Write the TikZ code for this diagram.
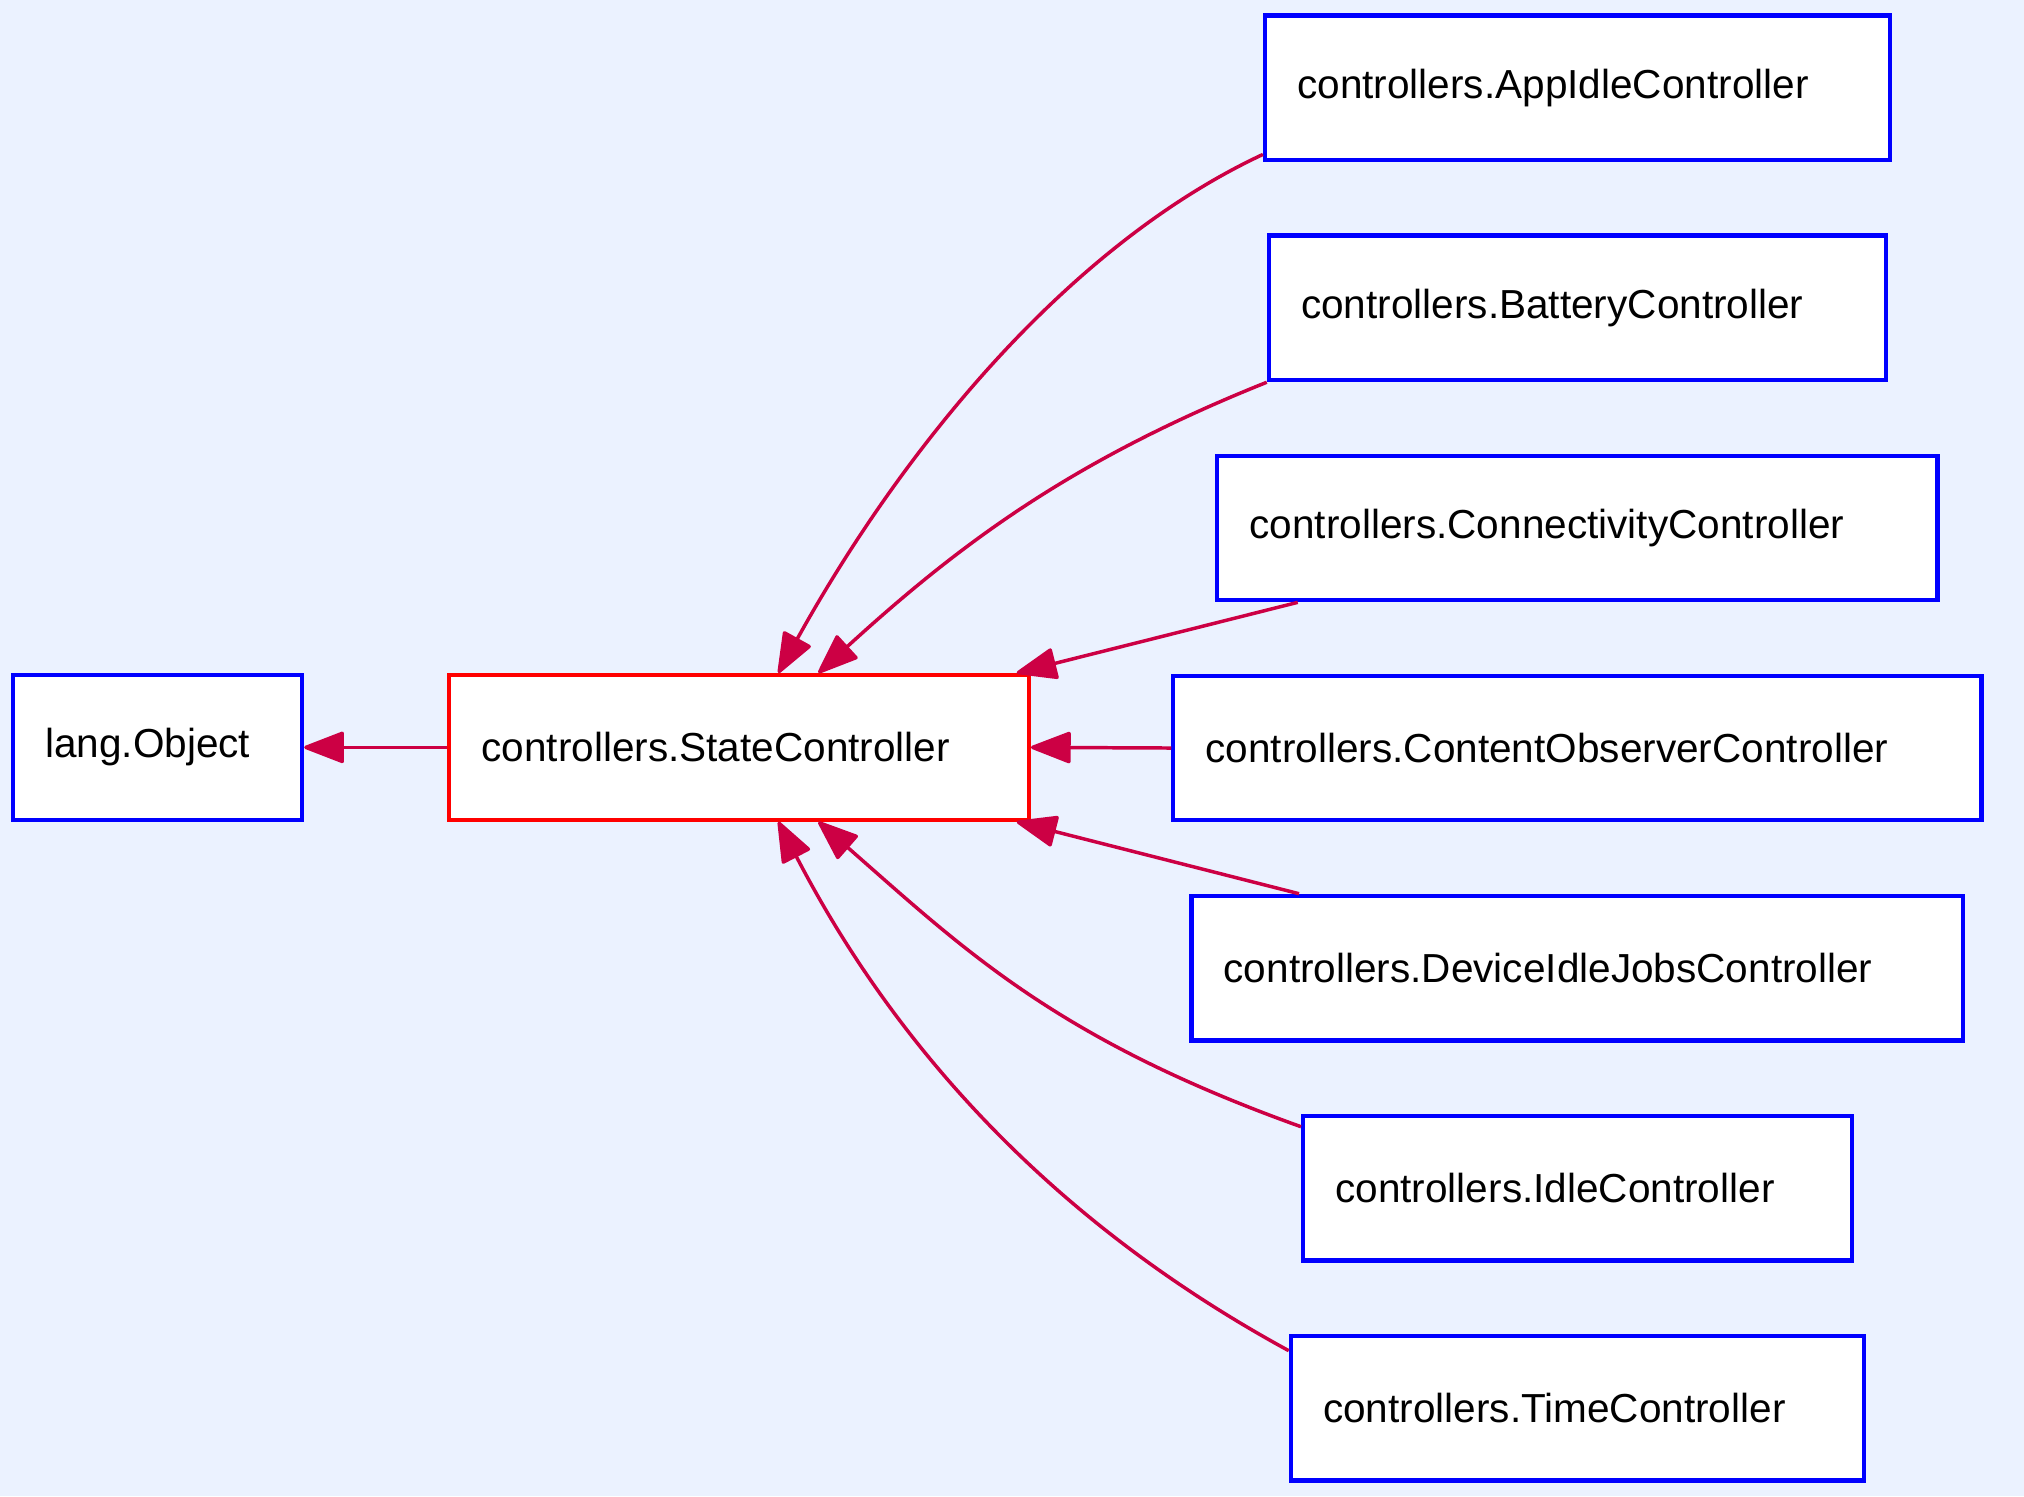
\documentclass[tikz,border=0pt]{standalone}
\usepackage{fontspec}
\setmainfont{Liberation Sans}
\usepackage{tikz}
\usetikzlibrary{
	arrows.meta
}
\definecolor{bgblue}{RGB}{235,242,255}
\definecolor{classblue}{RGB}{0,0,255}
\definecolor{basered}{RGB}{255,0,0}
\definecolor{edgered}{RGB}{204,0,68}
\tikzset{
	class/.style={
		draw=classblue,
		fill=white,
		line width=2.8pt,
		minimum height=3.36cm,
		inner xsep=0.75cm,
		inner ysep=0pt,
		align=left,
		font=\fontsize{26.8pt}{32pt}\selectfont
	},
	base class/.style={
		class,
		draw=basered
	},
	inherit/.style={
		draw=edgered,
		line width=2.3pt,
		-{Triangle[length=1cm,width=0.75cm,round]}
	}
}

\begin{document}
\begin{tikzpicture}[x=0.03cm,y=-0.03cm]
		\fill[bgblue] (0,0) rectangle (1568,1159);
		\useasboundingbox (0,0) rectangle (1568,1159);

		\draw
			node [class,text width=5.22cm]       (obj)   at (122,579)   {lang.Object}
			node [base class,text width=11.97cm] (state) at (572.5,579) {controllers.StateController}
		;

		\foreach \n/\w/\t [count=\k from 0] in {
			app/434/AppIdleController,
			bat/428/BatteryController,
			conn/508/ConnectivityController,
			cont/576/ContentObserverController,
			dev/548/DeviceIdleJobsController,
			idle/375/IdleController,
			time/394/TimeController
		} {
			\pgfmathsetmacro\tw{\w*0.03}
			\node [class,text width=\tw cm] (\n) at (1222,68+170.5*\k) {controllers.\t};
		}

		\draw[inherit] (state.west) -- (obj.east);
		\draw[inherit] ([yshift=0.18cm]app.south west)
			.. controls +(-150,70) and +(97,-175) .. ([xshift=0.915cm]state.north);
		\draw[inherit] (bat.south west)
			.. controls +(-150,60) and +(110.7,-101.1) .. ([xshift=1.845cm]state.north);
		\draw[inherit] ([xshift=1.92cm]conn.south west) -- ([xshift=-0.33cm]state.north east);
		\draw[inherit] (cont.west) -- (state.east);
		\draw[inherit] ([xshift=2.55cm]dev.north west) -- ([xshift=-0.33cm]state.south east);
		\draw[inherit] ([yshift=-0.3cm]idle.north west)
			.. controls +(-190,-68) and +(113,99) .. ([xshift=1.845cm]state.south);
		\draw[inherit] ([yshift=-0.39cm]time.north west)
			.. controls +(-180,-98) and +(92,177.6) .. ([xshift=0.915cm]state.south);
	\end{tikzpicture}
\end{document}
